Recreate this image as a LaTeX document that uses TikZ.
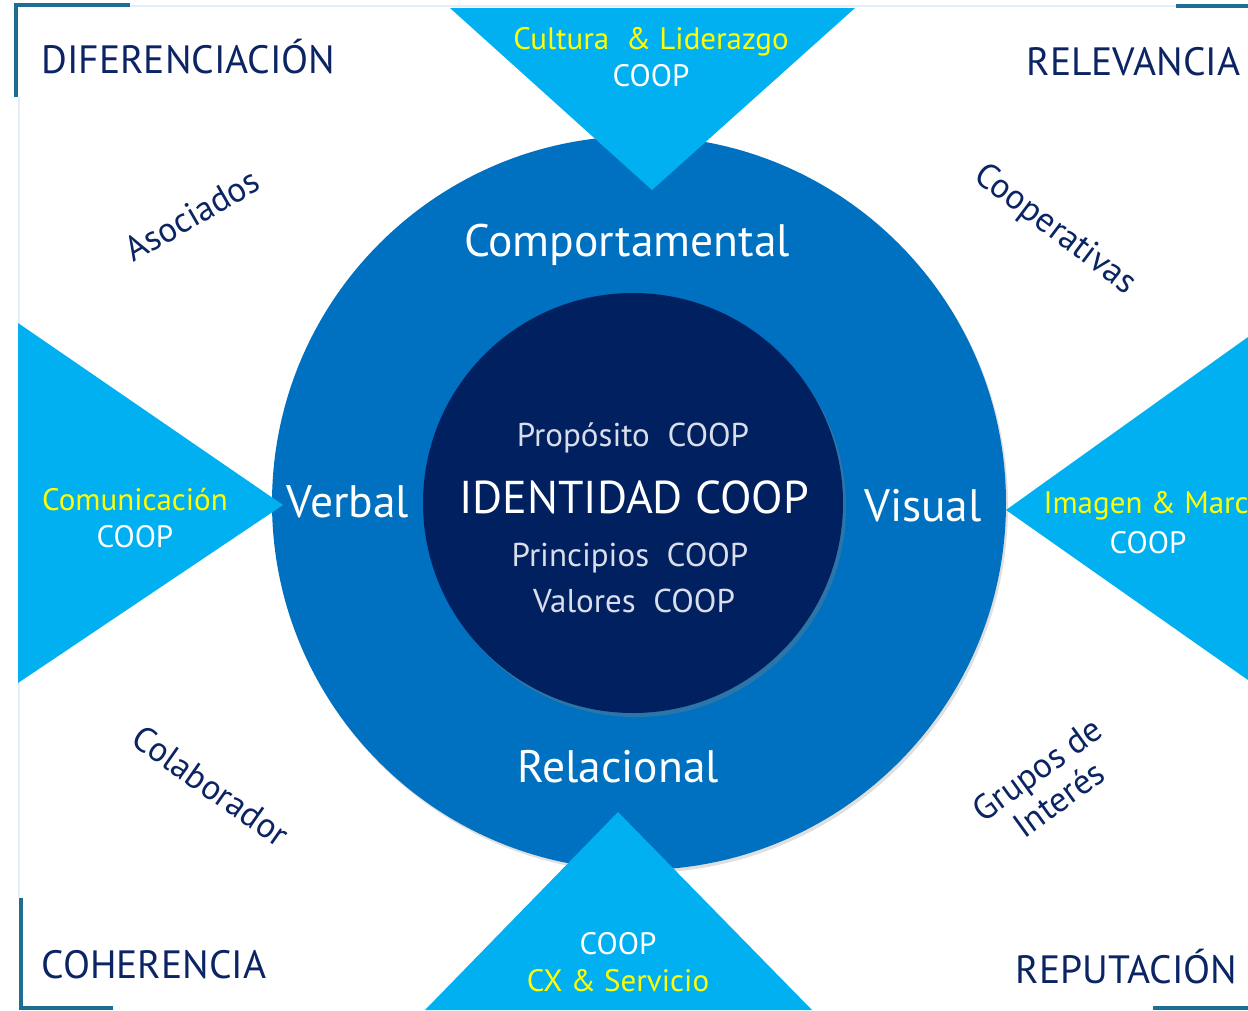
\documentclass[tikz,border=0pt]{standalone}
\usepackage{fontspec}
\setmainfont{PT Sans}
\usetikzlibrary{shadows}
\definecolor{coopblue}{HTML}{0070C0}
\definecolor{coopnavy}{HTML}{002060}
\definecolor{coopcyan}{HTML}{00B0F0}
\definecolor{coopyellow}{HTML}{FFFF00}
\definecolor{cooptext}{HTML}{0B2463}
\definecolor{coopframe}{HTML}{1D6E92}
\definecolor{coopline}{HTML}{E3EEF8}
\definecolor{coopsoft}{HTML}{D9DEEA}

\begin{document}
\begin{tikzpicture}[x=1pt,y=-1pt,
  corner/.style={text=cooptext, font=\fontsize{39.5}{44}\selectfont},
  stake/.style={text=cooptext, font=\fontsize{35}{37}\selectfont, align=center},
  facet/.style={text=white, font=\fontsize{45.5}{50}\selectfont},
  pillar/.style={text=white, font=\fontsize{31}{37}\selectfont, align=center},
  core/.style={text=coopsoft, font=\fontsize{33}{40}\selectfont}]

\useasboundingbox (0,0) rectangle (1248,1010);
\clip (0,0) rectangle (1248,1010);
\fill[white] (0,0) rectangle (1248,1010);

% frame
\draw[coopline, line width=1.5pt] (130,6) -- (1176,6);
\draw[coopline, line width=1.5pt] (19,97) -- (19,898);
\draw[coopframe, line width=4pt] (16,97) -- (16,5) -- (130,5);
\draw[coopframe, line width=4pt] (1176,6) -- (1248,6);
\draw[coopframe, line width=4pt] (21,898) -- (21,1008) -- (113,1008);
\draw[coopframe, line width=4pt] (1153,1008) -- (1248,1008);

% circles
\node (outer) [circle, fill=coopblue, minimum size=734pt, inner sep=0pt,
  drop shadow={opacity=0.25, shadow xshift=2pt, shadow yshift=-3pt}] at (639,503) {};

% triangles
\fill[coopcyan] (450,8) -- (855,8) -- (652,190) -- cycle;
\fill[coopcyan] (18,323) -- (283,505) -- (18,683) -- cycle;
\fill[coopcyan] (1248,337) -- (1006,510) -- (1248,680) -- cycle;
\fill[coopcyan] (425,1010) -- (618,812) -- (812,1010) -- cycle;

\node (inner) [circle, fill=coopnavy, minimum size=420pt, inner sep=0pt,
  drop shadow={opacity=0.35, shadow xshift=3pt, shadow yshift=-4pt}] at (633,503) {};

% corner labels
\node (dif) [corner, anchor=west] at (38,57) {DIFERENCIACIÓN};
\node (rel) [corner, anchor=east] at (1244,62) {RELEVANCIA};
\node (coh) [corner, anchor=west] at (38,965) {COHERENCIA};
\node (rep) [corner, anchor=east] at (1241,967) {REPUTACIÓN};

% stakeholders
\node (aso) [stake, rotate=30] at (192,215) {Asociados};
\node (cop) [stake, rotate=-37] at (1055,230) {Cooperativas};
\node (col) [stake, rotate=-35] at (211,786) {Colaborador};
\node (gru) [stake, rotate=36] at (1048,784) {Grupos de\\Interés};

% facets
\node (comp) [facet] at (627,245) {Comportamental};
\node (verb) [facet] at (348,502) {Verbal};
\node (vis) [facet] at (923,506) {Visual};
\node (rela) [facet] at (618,767) {Relacional};

% pillars
\node (cul) [pillar] at (651,57) {\textcolor{coopyellow}{Cultura \ \& Liderazgo}\\COOP};
\node (com) [pillar] at (135,518) {\textcolor{coopyellow}{Comunicación}\\COOP};
\node (ima) [pillar, anchor=west, text=coopyellow] at (1040,506) {Imagen \& Marca};
\node (imc) [pillar] at (1148,543) {COOP};
\node (cx) [pillar] at (618,962) {COOP\\\textcolor{coopyellow}{CX \& Servicio}};

% core
\node (prop) [core] at (633,438) {Propósito \ COOP};
\node (iden) [text=white, font=\fontsize{46}{50}\selectfont] at (634,497) {IDENTIDAD COOP};
\node (prin) [core] at (630,558) {Principios \ COOP};
\node (val) [core] at (634,601) {Valores \ COOP};

\end{tikzpicture}
\end{document}
